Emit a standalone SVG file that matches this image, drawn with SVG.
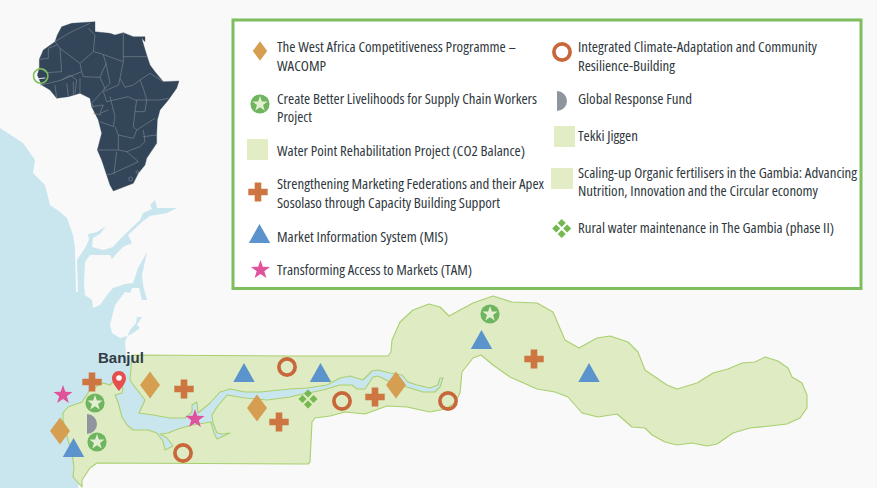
<svg xmlns="http://www.w3.org/2000/svg" xmlns:xlink="http://www.w3.org/1999/xlink" width="877" height="488" viewBox="0 0 877 488">
<style>
.t{font-family:"Open Sans","Noto Sans","Liberation Sans",sans-serif;font-size:15px;font-stretch:75%;fill:#2f3840}
.d{fill:#d69e50}.p{fill:#ce7642}.tr{fill:#5b93cc}.s{fill:#e0529c}.c{fill:#6fb45f}.w{fill:#e4efd2}
.r{fill:none;stroke:#c8683a;stroke-width:3.7}.g{fill:#8f959d}.q{fill:#e2edc6}.m{fill:#74b84f}
.b{fill:none;stroke:#76858f;stroke-width:2;stroke-linejoin:round}
</style>
<defs>
<polygon id="dia" class="d" points="0,-13.5 10,0 0,13.5 -10,0"/>
<path id="plus" class="p" d="M-3.3,-9.5H3.3V-3.2H9.7V3.2H3.3V9.5H-3.3V3.2H-9.7V-3.2H-3.3Z"/>
<polygon id="tri" class="tr" points="0,-9.5 10.7,9.5 -10.7,9.5"/>
<polygon id="star" points="0,-10 2.35,-3.24 9.51,-3.09 3.8,1.24 5.88,8.09 0,4 -5.88,8.09 -3.8,1.24 -9.51,-3.09 -2.35,-3.24"/>
<g id="cstar"><circle class="c" r="9.6"/><use xlink:href="#star" class="w" transform="scale(.8)"/></g>
<circle id="ring" class="r" r="8.1"/>
<path id="half" class="g" d="M-5,-10A10,10 0 0 1 -5,10Z"/>
<g id="four" class="m"><polygon points="0,-9.5 4,-5.500 0,-1.500 -4,-5.500"/><polygon points="0,9.5 4,5.500 0,1.500 -4,5.500"/><polygon points="-9.5,0 -5.500,4 -1.500,0 -5.500,-4"/><polygon points="9.5,0 5.500,4 1.500,0 5.500,-4"/></g>
</defs>
<rect width="877" height="488" fill="#f9f9f9"/>
<path id="sea" fill="#c9e6ef" d="M0,128 L23,143 35,160 33,173 45,185 50,205 60,212 67,218 73,235 75,248 76,292 78,292 77,260 85,248 89,240 88,234 97,232 106,226 100,234 93,238 92,247 103,250 113,247 122,237 140,220 143,213 152,209 150,205 155,200 157,208 177,208 167,213 150,216 142,222 128,235 132,243 123,247 117,253 112,259 110,255 90,255 85,262 84,283 85,295 92,300 93,308 100,305 107,295 113,288 125,284 133,283 138,268 147,252 142,275 143,285 147,300 142,300 139,288 132,288 130,293 125,292 115,305 110,325 112,333 120,338 130,335 140,328 137,325 142,317 137,317 136,323 130,330 125,342 126,355 131,356 130,380 125,430 100,450 80,480 78,488 0,488Z"/>
<g id="gambia">
<path fill="#c9e6ef" d="M122,393L115,395 118,402 122,417 127,425 133,430 148,430 157,433 159,436 163,441 165,450 173,446 167,438 160,434 168,433 178,429 192,425 205,423 211,422 214,433 217,439 230,433 222,434 217,433 213,423 212,415 217,407 227,395 245,398 267,400 290,397 298,395 323,390 340,385 352,385 357,389 365,389 373,377 378,376 390,382 407,387 423,392 435,392 440,387 443,378 440,378 438,385 430,388 417,385 408,382 402,375 390,373 378,370 372,371 363,380 350,376 340,378 327,385 307,388 290,389 260,392 245,392 230,389 220,392 210,403 198,413 197,402 192,405 192,412 185,418 170,418 153,415 139,413 145,400 135,387 130,380Z"/>
<path fill="#deebc3" stroke="#a9d06f" stroke-width="1.1" stroke-linejoin="round" d="M82,487L73,477 74,467 72,453 68,440 63,420 63,413 68,407 82,402 90,390 103,383 110,385 115,380 123,388 122,393 115,395 118,402 122,417 127,425 133,430 148,430 157,433 159,436 163,441 165,450 173,446 167,438 160,434 168,433 178,429 192,425 205,423 211,422 214,433 217,439 230,433 222,434 217,433 213,423 212,415 217,407 227,395 245,398 267,400 290,397 298,395 323,390 340,385 352,385 357,389 365,389 373,377 378,376 390,382 407,387 423,392 435,392 440,387 443,378 440,378 438,385 430,388 417,385 408,382 402,375 390,373 378,370 372,371 363,380 350,376 340,378 327,385 307,388 290,389 260,392 245,392 230,389 220,392 210,403 198,413 197,402 192,405 192,412 185,418 170,418 153,415 139,413 145,400 135,387 130,380 132,355 290,356 388,356 391,352 392,340 400,322 413,310 429,304 440,307 449,316 473,303 493,296 512,302 537,303 553,312 565,340 579,348 597,338 610,336 628,342 638,352 645,370 667,385 677,389 697,383 713,373 728,369 742,363 755,362 765,357 778,361 788,368 792,377 802,383 807,395 807,408 800,418 787,424 770,426 750,428 733,433 717,444 707,446 692,443 677,445 665,442 652,435 645,428 632,427 617,414 598,417 582,413 568,397 555,392 537,389 510,377 493,365 481,355 473,358 462,372 460,393 455,403 445,409 430,412 407,407 387,406 365,414 345,412 330,416 315,418 312,422 310,462 308,464 300,464 97,463 90,468 82,480Z"/>
</g>
<g id="africa">
<g transform="scale(.33333)">
<path fill="#334558" stroke="#334558" stroke-width="1" stroke-linejoin="round" d="M118,178L130,150 165,125 172,105 185,80 215,70 285,65 285,95 330,100 345,105 370,98 400,110 435,110 435,125 425,115 440,165 450,195 465,215 490,245 537,243 530,265 505,300 480,330 472,360 470,405 470,430 440,475 435,495 415,520 400,550 340,573 330,555 320,525 305,480 292,450 305,400 295,360 275,320 270,295 240,280 205,290 170,295 150,270 125,255 112,225 118,205Z"/>
<path class="b" d="M165,125L180,145 240,190 280,155 300,160 370,185 370,98M165,125L215,95 270,70M265,85L285,105 280,155M118,178L145,175 145,145 170,135M180,145L185,215 140,218 118,205M240,190L245,215 185,240M245,215L250,230 300,232 318,190 310,165M370,170L440,170M370,185L360,235 375,262M318,190L330,250 310,270M300,232L315,265 275,310 280,320M360,235L355,255 310,275 320,305 385,290M375,262L400,255 420,240 430,265M420,240L450,220 490,245M430,265L440,300 480,300 505,295M385,290L405,300 440,300M410,300L405,335 435,335 440,300M405,335L400,380 410,390 465,355M330,290L345,350 340,380 300,365M345,380L355,405 400,415 410,390M355,405L355,450 295,450M350,455L342,520 320,525M355,450L380,455 415,485 340,520M380,455L420,440 435,425 430,390M470,405L430,410M120,255L145,250 185,240 210,225 230,240 225,280M165,255L170,295M200,250L205,290M220,245L220,285M240,235L240,280M275,320L310,315 300,340 325,330M280,340L305,345"/>
<circle class="b" cx="392" cy="537" r="6"/><circle class="b" cx="412" cy="516" r="4"/>
<path d="M114,236L136,234" stroke="#dfe6e8" stroke-width="3" fill="none"/>
</g>
<circle cx="40.700" cy="76" r="7.200" fill="none" stroke="#7fc05a" stroke-width="1.600"/>
</g>
<g id="legend">
<rect x="233" y="20" width="628" height="268.5" fill="#fff" stroke="#7fbe5e" stroke-width="3"/>
<g id="l1"><use xlink:href="#dia" transform="translate(260,51) scale(.72)"/><text class="t" x="277" y="52" textLength="239" lengthAdjust="spacingAndGlyphs">The West Africa Competitiveness Programme –</text><text class="t" x="277" y="71" textLength="49" lengthAdjust="spacingAndGlyphs">WACOMP</text></g>
<g id="l2"><use xlink:href="#cstar" transform="translate(260,104)"/><text class="t" x="277" y="104" textLength="260" lengthAdjust="spacingAndGlyphs">Create Better Livelihoods for Supply Chain Workers</text><text class="t" x="277" y="122" textLength="35" lengthAdjust="spacingAndGlyphs">Project</text></g>
<g id="l3"><rect class="q" x="247" y="139" width="21" height="21"/><text class="t" x="277" y="156" textLength="248" lengthAdjust="spacingAndGlyphs">Water Point Rehabilitation Project (CO2 Balance)</text></g>
<g id="l4"><use xlink:href="#plus" transform="translate(258,192)"/><text class="t" x="277" y="189" textLength="267" lengthAdjust="spacingAndGlyphs">Strengthening Marketing Federations and their Apex</text><text class="t" x="277" y="208" textLength="223" lengthAdjust="spacingAndGlyphs">Sosolaso through Capacity Building Support</text></g>
<g id="l5"><use xlink:href="#tri" transform="translate(259.5,233.5)"/><text class="t" x="277" y="242" textLength="171" lengthAdjust="spacingAndGlyphs">Market Information System (MIS)</text></g>
<g id="l6"><use xlink:href="#star" class="s" transform="translate(260.5,270)"/><text class="t" x="277" y="275" textLength="195" lengthAdjust="spacingAndGlyphs">Transforming Access to Markets (TAM)</text></g>
<g id="l7"><use xlink:href="#ring" transform="translate(562,52)"/><text class="t" x="578" y="52" textLength="239" lengthAdjust="spacingAndGlyphs">Integrated Climate-Adaptation and Community</text><text class="t" x="578" y="71" textLength="97" lengthAdjust="spacingAndGlyphs">Resilience-Building</text></g>
<g id="l8"><use xlink:href="#half" transform="translate(562,101)"/><text class="t" x="578" y="104" textLength="114" lengthAdjust="spacingAndGlyphs">Global Response Fund</text></g>
<g id="l9"><rect class="q" x="554" y="126" width="21" height="21"/><text class="t" x="578" y="141" textLength="60" lengthAdjust="spacingAndGlyphs">Tekki Jiggen</text></g>
<g id="l10"><rect class="q" x="551" y="168" width="22" height="21"/><text class="t" x="578" y="178" textLength="279" lengthAdjust="spacingAndGlyphs">Scaling-up Organic fertilisers in the Gambia: Advancing</text><text class="t" x="578" y="196" textLength="240" lengthAdjust="spacingAndGlyphs">Nutrition, Innovation and the Circular economy</text></g>
<g id="l11"><use xlink:href="#four" transform="translate(561.7,228.5)"/><text class="t" x="578" y="233" textLength="256" lengthAdjust="spacingAndGlyphs">Rural water maintenance in The Gambia (phase II)</text></g>
</g>
<g id="markers">
<use id="m1" xlink:href="#plus" transform="translate(92,382)"/>
<use id="m2" xlink:href="#star" class="s" transform="translate(63,395)"/>
<use id="m3" xlink:href="#cstar" transform="translate(95,403)"/>
<use id="m4" xlink:href="#half" transform="translate(92,424)"/>
<use id="m5" xlink:href="#cstar" transform="translate(97,442)"/>
<use id="m6" xlink:href="#dia" transform="translate(60,431)"/>
<use id="m7" xlink:href="#tri" transform="translate(73.5,447.5)"/>
<use id="m8" xlink:href="#dia" transform="translate(150,385)"/>
<use id="m9" xlink:href="#plus" transform="translate(184,389)"/>
<use id="m10" xlink:href="#tri" transform="translate(244,372.5)"/>
<use id="m11" xlink:href="#ring" transform="translate(287,367)"/>
<use id="m12" xlink:href="#tri" transform="translate(320.5,372.5)"/>
<use id="m13" xlink:href="#four" transform="translate(308,399)"/>
<use id="m14" xlink:href="#dia" transform="translate(257,408)"/>
<use id="m15" xlink:href="#plus" transform="translate(279,422)"/>
<use id="m16" xlink:href="#star" class="s" transform="translate(195,419)"/>
<use id="m17" xlink:href="#ring" transform="translate(183,453)"/>
<use id="m18" xlink:href="#ring" transform="translate(342,401)"/>
<use id="m19" xlink:href="#plus" transform="translate(375,397)"/>
<use id="m20" xlink:href="#dia" transform="translate(396,385)"/>
<use id="m21" xlink:href="#ring" transform="translate(448,401)"/>
<use id="m22" xlink:href="#cstar" transform="translate(490,314)"/>
<use id="m23" xlink:href="#tri" transform="translate(481.5,339.5)"/>
<use id="m24" xlink:href="#plus" transform="translate(534,359)"/>
<use id="m25" xlink:href="#tri" transform="translate(589,372.5)"/>
</g>
<g id="banjul">
<path fill="#e5504f" d="M119,371C114.800,371 112,374.500 112,378.200C112,383 116.500,387.500 119,391C121.500,387.500 126,383 126,378.200C126,374.500 123.200,371 119,371Z"/>
<circle cx="119" cy="378" r="2.800" fill="#fff"/>
<text x="98" y="363" font-family="'Liberation Sans',Arial,sans-serif" font-weight="700" font-size="15" fill="#333b44">Banjul</text>
</g>
</svg>
